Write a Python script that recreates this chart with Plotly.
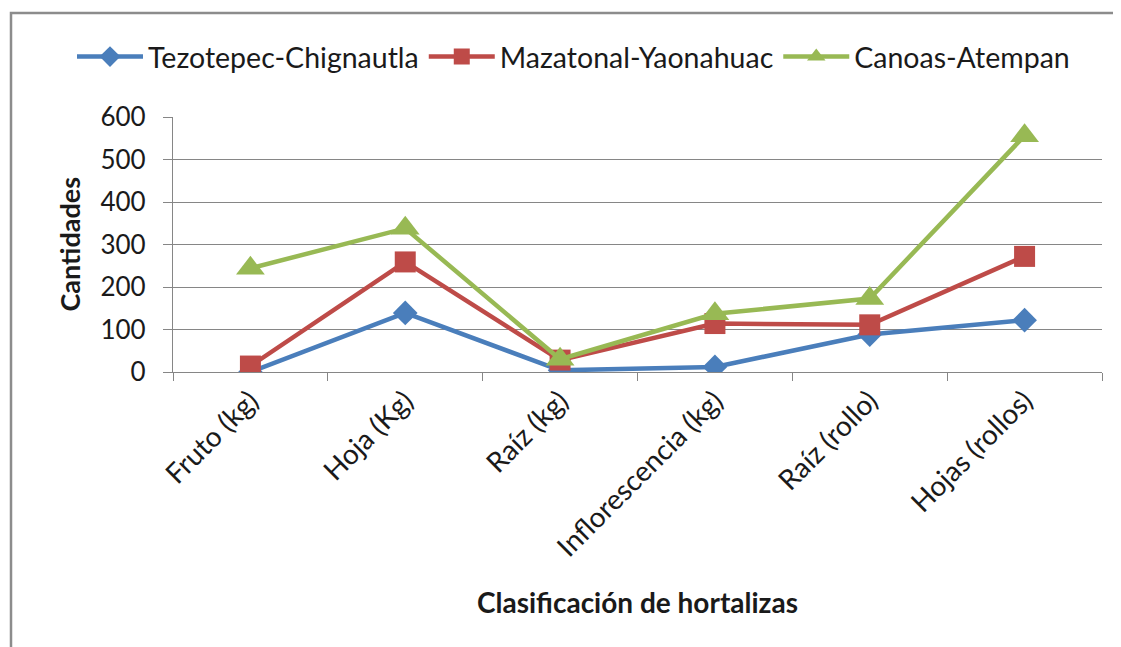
import plotly.graph_objects as go

categorias = ["Fruto (kg)", "Hoja (Kg)", "Raíz (kg)", "Inflorescencia (kg)", "Raíz (rollo)", "Hojas (rollos)"]
tezotepec = [0, 139, 4, 12, 88, 122]
mazatonal = [14, 259, 28, 114, 111, 272]
canoas = [244, 338, 30, 137, 173, 556]
y_ticks = [0, 100, 200, 300, 400, 500, 600]

FONT = "Lato"
TXT = "#1a1a1a"
GRID = "#868686"
W, H = 1113, 639          # page body has an 8px margin
L, R, T, B = 165, 19, 109, 275
PW, PH = W - L - R, H - T - B

fig = go.Figure()
series = [
    ("Tezotepec-Chignautla", tezotepec, "#4A7EBB", "diamond", 19),
    ("Mazatonal-Yaonahuac", mazatonal, "#BE4B48", "square", 21),
    ("Canoas-Atempan", canoas, "#98B954", "triangle-up", 25),
]
for name, vals, col, sym, sz in series:
    fig.add_trace(go.Scatter(
        x=categorias, y=vals, name=name, mode="lines+markers",
        line=dict(color=col, width=4.5),
        marker=dict(symbol=sym, size=sz, color=col),
    ))

fig.update_layout(
    width=W, height=H,
    margin=dict(l=L, r=R, t=T, b=B, autoexpand=False),
    paper_bgcolor="white", plot_bgcolor="white",
    font=dict(family=FONT, size=25, color=TXT),
    showlegend=True,
    legend=dict(orientation="h", xref="paper", x=(64 - L) / PW, xanchor="left",
                yref="paper", y=(T + PH - 49) / PH, yanchor="middle",
                font=dict(family=FONT, size=28.5, color=TXT), itemwidth=66,
                itemsizing="trace",
                traceorder="normal", tracegroupgap=0),
    xaxis=dict(type="category", tickson="boundaries", ticks="outside", ticklen=8,
               tickcolor=GRID, showline=True, linecolor=GRID, linewidth=1.3,
               tickangle=-45, showgrid=False, automargin=False,
               tickfont=dict(family=FONT, size=28, color=TXT),
               range=[-0.5, 5.5]),
    yaxis=dict(range=[0, 600], tickvals=y_ticks, ticks="outside", ticklen=9, tickcolor=GRID,
               showline=True, linecolor=GRID, linewidth=1.3, automargin=False,
               ticklabelstandoff=12,
               showgrid=True, gridcolor=GRID, gridwidth=1.2, zeroline=False,
               tickfont=dict(family=FONT, size=26, color=TXT)),
    annotations=[
        dict(text="<b>Clasificación de hortalizas</b>", xref="paper", yref="paper",
             x=0.5, y=(T + PH - 594) / PH, xanchor="center", yanchor="middle",
             showarrow=False, font=dict(family=FONT, size=28, color=TXT)),
        dict(text="<b>Cantidades</b>", xref="paper", yref="paper",
             x=(61 - L) / PW, y=0.5, xanchor="center", yanchor="middle", textangle=-90,
             showarrow=False, font=dict(family=FONT, size=27, color=TXT)),
    ],
)
fig.add_shape(type="rect", xref="paper", yref="paper",
              x0=(3 - L) / PW, x1=(1140 - L) / PW,
              y0=(T + PH - 700) / PH, y1=(T + PH - 5) / PH,
              line=dict(color="#8c8c8c", width=2.5), layer="below")
fig.write_html("out.html")
